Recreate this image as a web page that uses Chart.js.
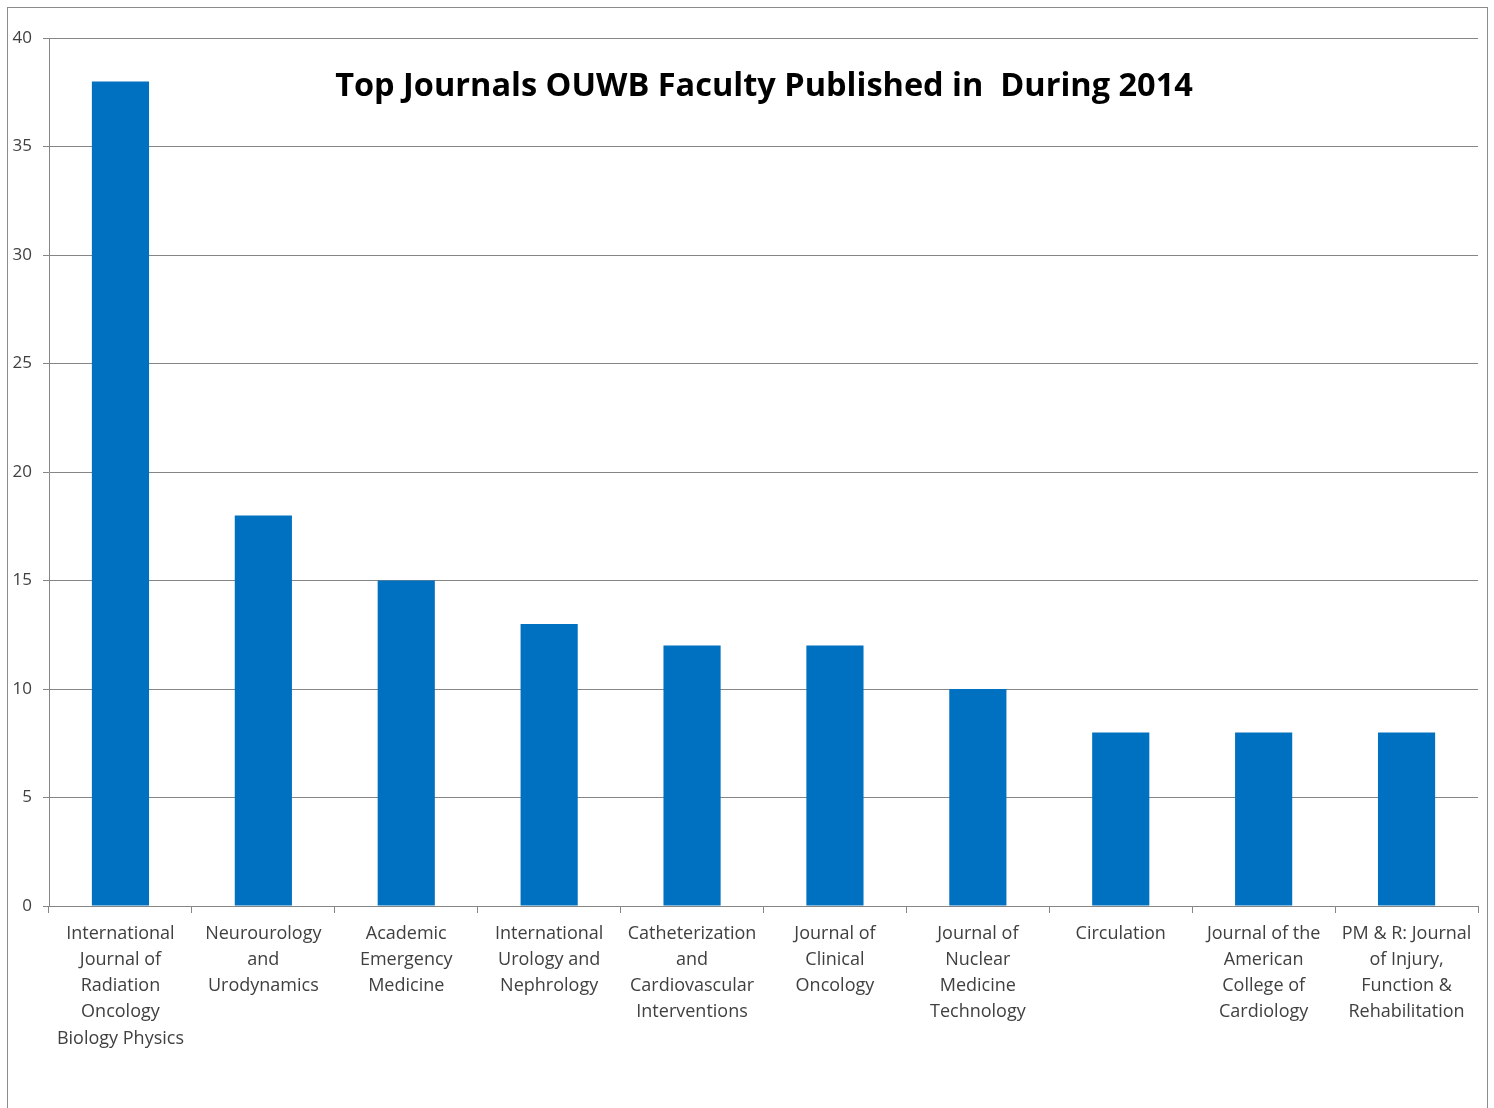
<!DOCTYPE html>
<html>
<head>
<meta charset="utf-8">
<script src="https://cdn.jsdelivr.net/npm/chart.js@4.4.1/dist/chart.umd.min.js"></script>
<style>
  html, body { margin: 0; padding: 0; background: #fff; }
  #frame {
    position: absolute; left: 7px; top: 7px;
    width: 1479px; height: 1120px;
    border: 1px solid #8c8c8c; border-bottom: none;
  }
  #wrap { position: absolute; left: 0; top: 0; width: 1494px; height: 1108px; }
</style>
</head>
<body>
<div id="frame"></div>
<div id="wrap"><canvas id="grafico" width="1494" height="1108"></canvas></div>
<script>
const journals = [
    ['International', 'Journal of', 'Radiation', 'Oncology', 'Biology Physics'],
    ['Neurourology', 'and', 'Urodynamics'],
    ['Academic', 'Emergency', 'Medicine'],
    ['International', 'Urology and', 'Nephrology'],
    ['Catheterization', 'and', 'Cardiovascular', 'Interventions'],
    ['Journal of', 'Clinical', 'Oncology'],
    ['Journal of', 'Nuclear', 'Medicine', 'Technology'],
    ['Circulation'],
    ['Journal of the', 'American', 'College of', 'Cardiology'],
    ['PM & R: Journal', 'of Injury,', 'Function &', 'Rehabilitation']
];
const publications = [38, 18, 15, 13, 12, 12, 10, 8, 8, 8];
const yTicks = [0, 5, 10, 15, 20, 25, 30, 35, 40];
const chartTitle = 'Top Journals OUWB Faculty Published in  During 2014';

// title sits inside the plot area, so draw it after the chart
const insideTitle = {
    id: 'insideTitle',
    afterDraw(chart) {
        const ctx = chart.ctx;
        const area = chart.chartArea;
        ctx.save();
        ctx.font = 'bold 32.5px "Open Sans", sans-serif';
        ctx.fillStyle = '#000';
        ctx.textAlign = 'center';
        ctx.textBaseline = 'middle';
        ctx.fillText(chartTitle, 764, area.top + 49);
        ctx.restore();
    }
};

const ctx = document.getElementById('grafico').getContext('2d');
const chart = new Chart(ctx, {
    type: 'bar',
    data: {
        labels: journals,
        datasets: [{
            data: publications,
            backgroundColor: '#0070c0',
            barPercentage: 0.4,
            categoryPercentage: 1
        }]
    },
    options: {
        responsive: false,
        animation: false,
        layout: { padding: { left: 0, top: 38, right: 16, bottom: 0 } },
        plugins: {
            legend: { display: false },
            tooltip: { enabled: false }
        },
        scales: {
            y: {
                min: 0,
                max: 40,
                afterFit(scale) { scale.width = 49; },
                afterBuildTicks(scale) { scale.ticks = yTicks.map(v => ({ value: v })); },
                border: { color: '#868686', width: 1 },
                grid: { color: '#868686', lineWidth: 1, tickLength: 6 },
                ticks: {
                    color: '#404040',
                    font: { family: '"Open Sans", sans-serif', size: 17 },
                    padding: 11
                }
            },
            x: {
                afterFit(scale) { scale.height = 1108 - 906; },
                border: { color: '#868686', width: 1 },
                grid: { drawOnChartArea: false, color: '#868686', tickLength: 7, offset: true },
                ticks: {
                    color: '#404040',
                    font: { family: '"Open Sans", sans-serif', size: 18, lineHeight: 1.45 },
                    padding: 8,
                    maxRotation: 0,
                    autoSkip: false
                }
            }
        }
    },
    plugins: [insideTitle]
});
</script>
</body>
</html>
